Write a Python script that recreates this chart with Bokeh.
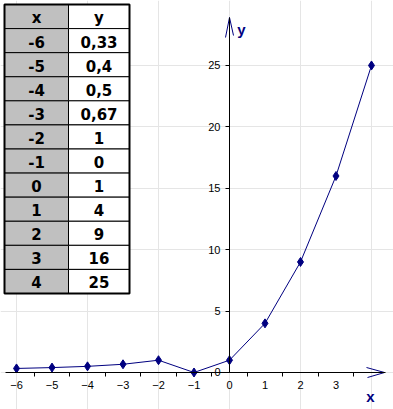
from bokeh.plotting import figure
from bokeh.models import Range1d, LinearAxis, FixedTicker, ColumnDataSource
from bokeh.core.properties import value
from bokeh.embed import file_html
from bokeh.resources import INLINE

# ---- data ----
x_vals = [-6, -5, -4, -3, -2, -1, 0, 1, 2, 3, 4]
y_vals = [0.33, 0.4, 0.5, 0.67, 1, 0, 1, 4, 9, 16, 25]
y_ticks = [0, 5, 10, 15, 20, 25]
x_tick_labels = [-6, -5, -4, -3, -2, -1, 0, 1, 2, 3]
table_header = ["x", "y"]

W, H = 393, 409
X0, X1 = -6.451, 4.62
Y0, Y1 = -3.013, 30.29

def xpx(px):
    return X0 + px * (X1 - X0) / W

def ypx(py):
    return Y1 - py * (Y1 - Y0) / H

p = figure(width=W, height=H, x_range=Range1d(X0, X1), y_range=Range1d(Y0, Y1),
           x_axis_location=None, y_axis_location=None, toolbar_location=None,
           output_backend="svg", min_border=0, outline_line_color=None,
           background_fill_color="white", border_fill_color="white")
p.extra_x_ranges = {"px": Range1d(0, W)}
p.extra_y_ranges = {"py": Range1d(H, 0)}

FONT = "Liberation Sans"

# x axis: tick marks between categories
half = [(a + b) / 2 for a, b in zip(x_vals[:-1], x_vals[1:])]
xt = LinearAxis(ticker=FixedTicker(ticks=half), fixed_location=0,
                major_tick_out=4, major_tick_in=0, minor_tick_out=0, minor_tick_in=0,
                major_label_overrides={t: "" for t in half},
                axis_line_color="black", major_tick_line_color="black",
                bounds=(xpx(5), xpx(385)))
xl = LinearAxis(ticker=FixedTicker(ticks=x_tick_labels), fixed_location=0,
                major_tick_out=0, major_tick_in=0, minor_tick_out=0, minor_tick_in=0,
                axis_line_color=None, major_label_standoff=9,
                major_label_text_font=FONT, major_label_text_font_size="11px",
                major_label_text_color="black")
ya = LinearAxis(ticker=FixedTicker(ticks=y_ticks), fixed_location=0,
                major_tick_out=4, major_tick_in=0, minor_tick_out=0, minor_tick_in=0,
                axis_line_color="black", major_tick_line_color="black",
                bounds=(0, ypx(17)), major_label_standoff=5,
                major_label_text_font=FONT, major_label_text_font_size="11px",
                major_label_text_color="black")
p.add_layout(xt, "below")
p.add_layout(xl, "below")
p.add_layout(ya, "left")

# arrows (pixel space)
p.segment(x0=[366, 367, 225, 233], y0=[367, 377, 37, 35],
          x1=[384, 384, 229, 229], y1=[372, 372, 17, 17],
          line_color="#000080", line_width=1, x_range_name="px", y_range_name="py")
p.text(x=[241], y=[29], text=["y"], text_font=value(FONT), text_font_style="bold",
       text_font_size="15px", text_color="#000080", text_align="center",
       text_baseline="middle", x_range_name="px", y_range_name="py")
p.text(x=[370], y=[396], text=["x"], text_font=value(FONT), text_font_style="bold",
       text_font_size="15px", text_color="#000080", text_align="center",
       text_baseline="middle", x_range_name="px", y_range_name="py")

# series
src = ColumnDataSource(dict(x=x_vals, y=y_vals))
p.line("x", "y", source=src, line_color="#000080", line_width=1)
p.scatter("x", "y", source=src, marker="diamond", size=9,
          fill_color="#000080", line_color="#000080")

# table (pixel space)
L, M, R, T, B = 4, 68, 129, 4, 293
nrows = len(x_vals) + 1
rh = (B - T) / nrows
tops = [T + i * rh for i in range(nrows)]
bots = [T + (i + 1) * rh for i in range(nrows)]
p.quad(left=[L] * nrows, right=[M] * nrows, top=tops, bottom=bots,
       fill_color="#C0C0C0", line_color="black", line_width=1,
       x_range_name="px", y_range_name="py")
p.quad(left=[M] * nrows, right=[R] * nrows, top=tops, bottom=bots,
       fill_color="white", line_color="black", line_width=1,
       x_range_name="px", y_range_name="py")
p.quad(left=[L], right=[R], top=[T], bottom=[B], fill_color=None,
       line_color="black", line_width=2, x_range_name="px", y_range_name="py")

col_x = [str(v) for v in x_vals]
col_y = [f"{v:g}".replace(".", ",") for v in y_vals]
centers = [T + (i + 0.5) * rh + 1 for i in range(nrows)]
p.text(x=[(L + M) / 2] * nrows, y=centers, text=[table_header[0]] + col_x,
       text_font=value("DejaVu Sans"), text_font_style="bold", text_font_size="15px",
       text_color="black", text_align="center", text_baseline="middle",
       x_range_name="px", y_range_name="py")
p.text(x=[(M + R) / 2] * nrows, y=centers, text=[table_header[1]] + col_y,
       text_font=value("DejaVu Sans"), text_font_style="bold", text_font_size="15px",
       text_color="black", text_align="center", text_baseline="middle",
       x_range_name="px", y_range_name="py")

open("out.html", "w").write(file_html(p, INLINE))
